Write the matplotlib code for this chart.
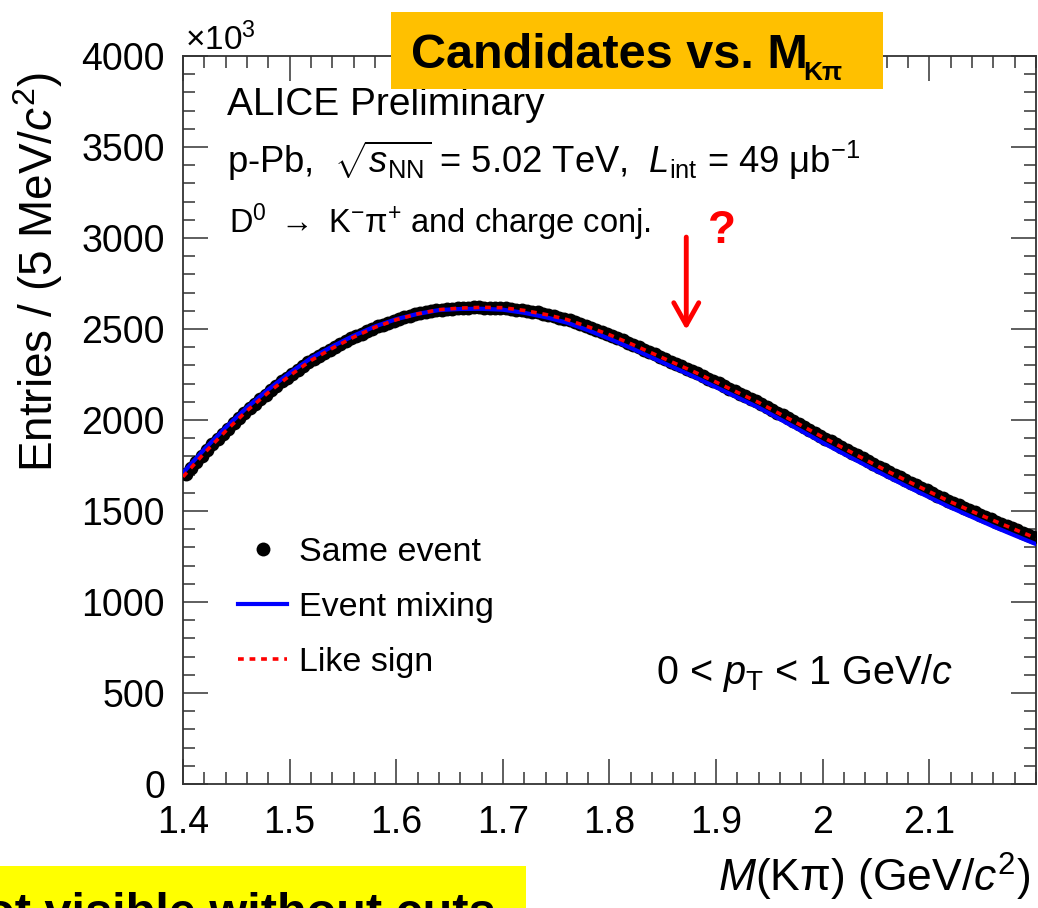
import numpy as np
import matplotlib
matplotlib.use("Agg")
import matplotlib.pyplot as plt
from matplotlib.patches import Rectangle
from matplotlib.ticker import MultipleLocator, FixedLocator, FuncFormatter

plt.rcParams['font.family'] = ['Liberation Sans', 'DejaVu Sans']
plt.rcParams['mathtext.fontset'] = 'custom'
plt.rcParams['mathtext.rm'] = 'Liberation Sans'
plt.rcParams['mathtext.it'] = 'Liberation Sans:italic'
plt.rcParams['mathtext.bf'] = 'Liberation Sans:bold'

# ==========================================
# D0 -> K pi candidates, 0 < pT < 1 GeV/c (entries in units of 10^3)
# ==========================================
# same event: 5 MeV bins from 1.40 to 2.20 GeV/c^2
same_event = [
    1704, 1737, 1769, 1802, 1834, 1867, 1897, 1925, 1953, 1981, 2009, 2037,
    2064, 2089, 2114, 2139, 2164, 2189, 2212, 2233, 2254, 2275, 2296, 2317,
    2335, 2352, 2369, 2386, 2402, 2419, 2434, 2448, 2461, 2475, 2488, 2502,
    2514, 2524, 2535, 2545, 2556, 2566, 2574, 2580, 2586, 2592, 2597, 2603,
    2607, 2609, 2612, 2614, 2616, 2618, 2619, 2619, 2618, 2618, 2617, 2617,
    2615, 2611, 2607, 2603, 2600, 2596, 2591, 2584, 2577, 2570, 2563, 2556,
    2547, 2537, 2527, 2517, 2507, 2497, 2486, 2474, 2461, 2449, 2437, 2425,
    2412, 2399, 2386, 2373, 2360, 2347, 2334, 2321, 2308, 2295, 2282, 2269,
    2256, 2242, 2228, 2214, 2201, 2187, 2173, 2159, 2145, 2131, 2117, 2103,
    2088, 2072, 2057, 2041, 2025, 2009, 1994, 1978, 1962, 1946, 1930, 1914,
    1898, 1882, 1867, 1851, 1836, 1820, 1805, 1790, 1774, 1759, 1744, 1729,
    1714, 1699, 1685, 1670, 1656, 1641, 1627, 1613, 1599, 1585, 1571, 1557,
    1544, 1531, 1518, 1505, 1492, 1479, 1466, 1454, 1441, 1429, 1417, 1405,
    1393, 1381, 1369, 1357,
]
mass_bins = 1.4025 + 0.005 * np.arange(len(same_event))

# background templates sampled every 20 MeV
mass_bkg = [
    1.40, 1.42, 1.44, 1.46, 1.48, 1.50, 1.52, 1.54, 1.56, 1.58, 1.60,
    1.62, 1.64, 1.66, 1.68, 1.70, 1.72, 1.74, 1.76, 1.78, 1.80, 1.82,
    1.84, 1.86, 1.88, 1.90, 1.92, 1.94, 1.96, 1.98, 2.00, 2.02, 2.04,
    2.06, 2.08, 2.10, 2.12, 2.14, 2.16, 2.18, 2.20,
]
event_mixing = [
    1710, 1839, 1959, 2069, 2168, 2258, 2340, 2404, 2463, 2514, 2554,
    2583, 2604, 2610, 2611, 2606, 2589, 2565, 2535, 2493, 2446, 2396,
    2342, 2289, 2236, 2180, 2124, 2068, 2004, 1940, 1875, 1813, 1752,
    1691, 1632, 1575, 1519, 1467, 1415, 1366, 1318,
]
like_sign = [
    1688, 1818, 1939, 2051, 2151, 2243, 2327, 2394, 2455, 2509, 2551,
    2583, 2606, 2615, 2619, 2617, 2602, 2580, 2552, 2512, 2468, 2419,
    2367, 2315, 2263, 2208, 2152, 2096, 2033, 1970, 1906, 1844, 1782,
    1721, 1663, 1606, 1550, 1498, 1448, 1399, 1351,
]

x_major = [1.4, 1.5, 1.6, 1.7, 1.8, 1.9, 2.0, 2.1]
y_major = [0, 500, 1000, 1500, 2000, 2500, 3000, 3500, 4000]

W, H = 1038, 908
fig = plt.figure(figsize=(W / 100, H / 100), dpi=100)
ax = fig.add_axes([183 / W, 1 - 784 / H, 853 / W, 728 / H])

ax.plot(mass_bins, same_event, 'o', color='black', markersize=10,
        markeredgewidth=0, label='Same event', zorder=3)
ax.plot(mass_bkg, event_mixing, '-', color='#0000ff', lw=3.0,
        label='Event mixing', zorder=4)
ax.plot(mass_bkg, like_sign, color='#ff0000', lw=2.6,
        linestyle=(0, (1.6, 1.6)), label='Like sign', zorder=5)

ax.set_xlim(1.4, 2.2)
ax.set_ylim(0, 4000)

# ROOT style axes: inward ticks on all four sides
ax.xaxis.set_major_locator(FixedLocator(x_major))
ax.xaxis.set_minor_locator(MultipleLocator(0.02))
ax.xaxis.set_major_formatter(FuncFormatter(lambda v, p: f"{v:g}"))
ax.yaxis.set_major_locator(FixedLocator(y_major))
ax.yaxis.set_minor_locator(MultipleLocator(100))
ax.tick_params(which='both', direction='in', top=True, right=True,
               width=1.1, color='#333333', labelsize=27)
ax.tick_params(which='major', length=18)
ax.tick_params(which='minor', length=8.5)
ax.tick_params(axis='x', pad=15)
ax.tick_params(axis='y', pad=13)
for sp in ax.spines.values():
    sp.set_linewidth(1.3)
    sp.set_color('#333333')

fig.text(185 / W, 1 - 50 / H, r'$\times$10$^{3}$', fontsize=24,
         ha='left', va='baseline')
fig.text(38 / W, 1 - 72 / H, r'Entries / (5 MeV/$c^{2}$)', fontsize=33,
         rotation=90, ha='center', va='top')
fig.text(1030 / W, 1 - 892 / H, r'$M$(Kπ) (GeV/$c^{2}$)', fontsize=32,
         ha='right', va='baseline')

# labels inside the frame
ax.text(227 / W, 1 - 115 / H, 'ALICE Preliminary', fontsize=28,
        transform=fig.transFigure, ha='left', va='baseline')
ax.text(227 / W, 1 - 173 / H,
        r'p-Pb,  $\sqrt{s_{\mathrm{NN}}}$ = 5.02 TeV,  $L_{\mathrm{int}}$ = 49 μb$^{-1}$',
        fontsize=26.2, transform=fig.transFigure, ha='left', va='baseline')
ax.text(229 / W, 1 - 233 / H,
        r'D$^{0}$ $\rightarrow$ K$^{-}$π$^{+}$ and charge conj.',
        fontsize=23.5, transform=fig.transFigure, ha='left', va='baseline')
ax.text(656 / W, 1 - 684 / H, r'0 < $p_{\mathrm{T}}$ < 1 GeV/$c$',
        fontsize=28.5, transform=fig.transFigure, ha='left', va='baseline')

ax.legend(loc='upper left', bbox_to_anchor=(238 / W, 1 - 537 / H),
          bbox_transform=fig.transFigure, frameon=False, fontsize=24.5,
          borderpad=0, borderaxespad=0, handlelength=1.45,
          handletextpad=0.33, labelspacing=0.7, numpoints=1)

# red arrow and question mark at the D0 mass
ax.annotate('', xy=(1.872, 2495), xytext=(1.872, 3005),
            arrowprops=dict(arrowstyle='->, head_length=0.8, head_width=0.45',
                            color='#ff0000', lw=3.5, mutation_scale=20,
                            shrinkA=0, shrinkB=0))
ax.text(1.9056, 3040, '?', color='#ff0000', fontsize=33, fontweight='bold',
        ha='center', va='center')

# slide banners
fig.add_artist(Rectangle((391 / W, 1 - 89 / H), 492 / W, 77 / H,
                         transform=fig.transFigure, facecolor='#ffc000',
                         edgecolor='none', zorder=10))
fig.text(411 / W, 1 - 68 / H, 'Candidates vs. M', fontsize=35,
         fontweight='bold', ha='left', va='baseline', zorder=11)
fig.text(803 / W, 1 - 80 / H, 'Kπ', fontsize=19, fontweight='bold',
         ha='left', va='baseline', zorder=11)

fig.add_artist(Rectangle((0, 0), 526 / W, 42 / H, transform=fig.transFigure,
                         facecolor='#ffff00', edgecolor='none', zorder=10))
fig.text(496 / W, -19 / H, 'Not visible without cuts', fontsize=35,
         fontweight='bold', ha='right', va='baseline', zorder=11)

fig.savefig('out.png', dpi=100)
